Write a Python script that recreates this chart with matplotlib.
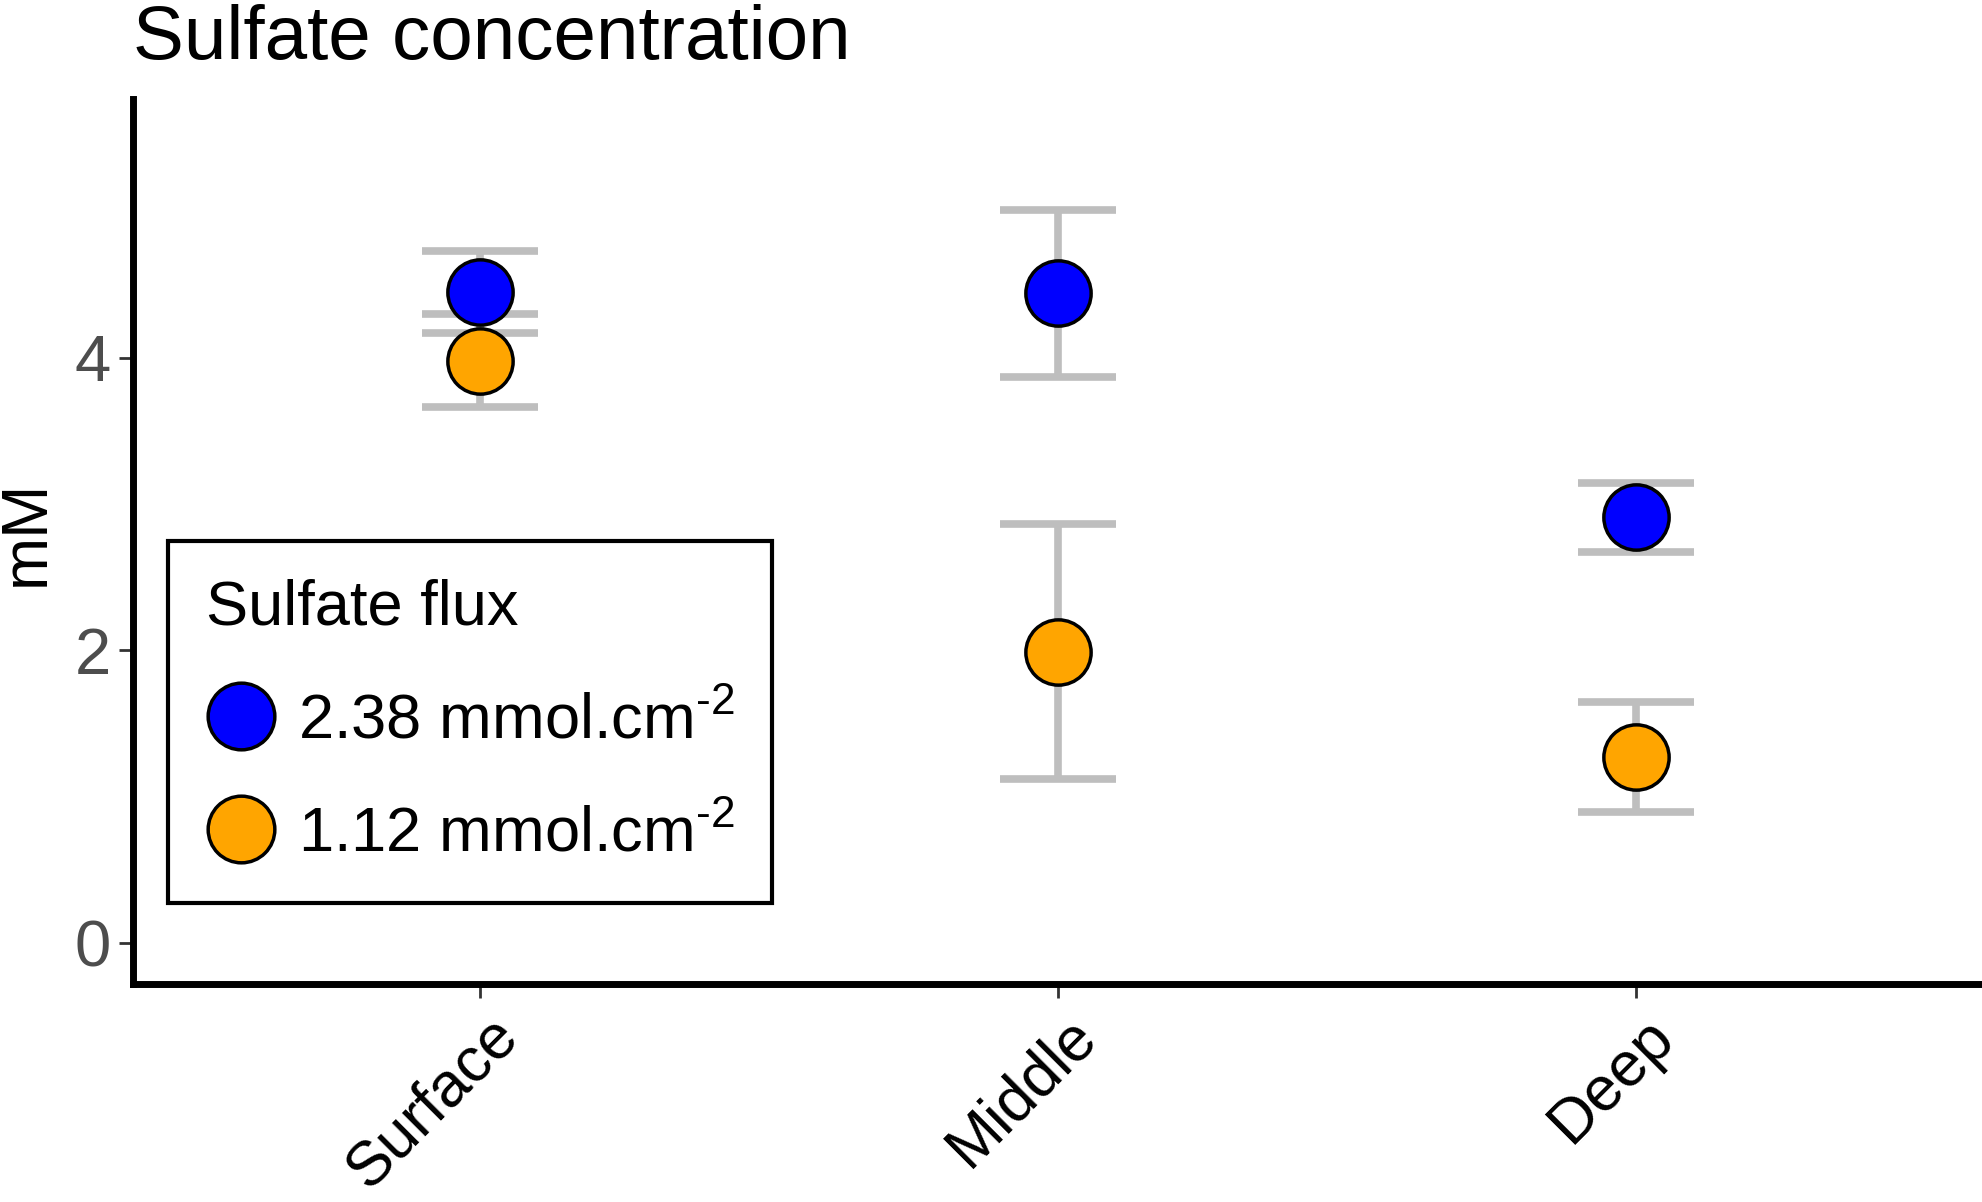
import matplotlib
matplotlib.use('Agg')
import matplotlib.pyplot as plt
import matplotlib.transforms as mtransforms
from matplotlib.lines import Line2D

plt.rcParams['font.family'] = ['Liberation Sans', 'DejaVu Sans']
plt.rcParams['mathtext.fontset'] = 'custom'
plt.rcParams['mathtext.rm'] = 'Liberation Sans'
plt.rcParams['mathtext.default'] = 'regular'

# values
depths = ['Surface', 'Middle', 'Deep']
flux_labels = [r'2.38 mmol.cm$^{\text{-}2}$', r'1.12 mmol.cm$^{\text{-}2}$']
flux_colors = ['#0000FF', '#FFA500']
high_mean = [4.45, 4.44, 2.91]
high_err = [0.28, 0.57, 0.235]
low_mean = [3.98, 1.99, 1.27]
low_err = [0.32, 0.87, 0.375]

means = [high_mean, low_mean]
errs = [high_err, low_err]

fig = plt.figure(figsize=(19.83, 12.02), dpi=100)
ax = fig.add_axes([0.067, 0.1814, 0.933, 0.7366])

x = list(range(len(depths)))

# error bars first (drawn under the points)
for m, e in zip(means, errs):
    ax.errorbar(x, m, yerr=e, fmt='none', ecolor='#BEBEBE', elinewidth=5.5,
                capsize=41.5, capthick=5.5, zorder=2)

for m, c in zip(means, flux_colors):
    ax.plot(x, m, linestyle='none', marker='o', markersize=47,
            markerfacecolor=c, markeredgecolor='black', markeredgewidth=2.5,
            zorder=3)

ax.set_xlim(-0.6, 2.6)
ax.set_ylim(-0.28, 5.77)
ax.set_xticks(x)
ax.set_yticks([0, 2, 4])
ax.set_yticklabels(['0', '2', '4'], fontsize=47, color='#4D4D4D')
ax.tick_params(axis='both', length=10, width=2, color='#333333', pad=6)
ax.set_xticklabels(depths, rotation=45, ha='right', va='top',
                   rotation_mode='anchor', fontsize=45, color='black')
# nudge the slanted labels right like the original
shift = mtransforms.ScaledTranslation(8 / 100, 0, fig.dpi_scale_trans)
for tick in ax.xaxis.get_major_ticks():
    tick.label1.set_transform(tick.label1.get_transform() + shift)

for side in ['top', 'right']:
    ax.spines[side].set_visible(False)
for side in ['left', 'bottom']:
    ax.spines[side].set_linewidth(5)
    ax.spines[side].set_color('black')

ax.set_ylabel('mM', fontsize=46)
ax.yaxis.set_label_coords(-0.041, 0.51)

fig.text(133 / 1983, 1 - 59 / 1202, 'Sulfate concentration', fontsize=55,
         ha='left', va='baseline')

handles = [Line2D([], [], linestyle='none', marker='o', markersize=48,
                  markerfacecolor=c, markeredgecolor='black',
                  markeredgewidth=2.5) for c in flux_colors]
leg = ax.legend(handles, flux_labels, title='Sulfate flux', fontsize=45.5,
                title_fontsize=45.5, loc='upper left',
                bbox_to_anchor=(168 / 1983, 1 - 541 / 1202),
                bbox_transform=fig.transFigure, borderaxespad=0,
                fancybox=False, framealpha=1, edgecolor='black',
                borderpad=0.6, handlelength=1.1, handletextpad=0.35,
                labelspacing=0.86)
leg._legend_box.align = 'left'
leg.get_frame().set_linewidth(3)

fig.savefig('out.png', dpi=100)
